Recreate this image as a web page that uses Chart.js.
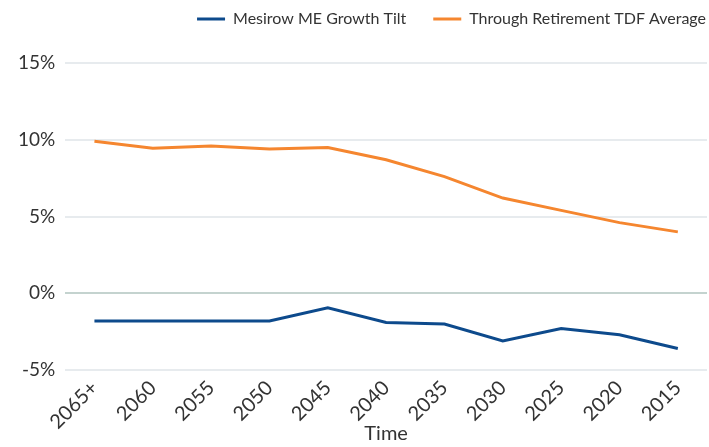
<!DOCTYPE html>
<html>
<head>
<meta charset="utf-8">
<script src="https://cdn.jsdelivr.net/npm/chart.js@4"></script>
<style>
  html, body { margin: 0; padding: 0; background: #fff; overflow: hidden; }
  #wrap { width: 709px; height: 447px; }
</style>
</head>
<body>
<div id="wrap"><canvas id="myChart"></canvas></div>
<script>
const vintages = ['2065+', '2060', '2055', '2050', '2045', '2040', '2035', '2030', '2025', '2020', '2015'];
const growthTilt = [-1.8, -1.8, -1.8, -1.8, -0.95, -1.9, -2.0, -3.1, -2.3, -2.7, -3.6];
const tdfAverage = [9.9, 9.45, 9.6, 9.4, 9.5, 8.7, 7.6, 6.2, 5.4, 4.6, 4.0];
const yTicks = [-5, 0, 5, 10, 15];

const blue = '#0d4a8c';
const orange = '#f5862f';

// nudge the legend box: flush right (no trailing item padding) and up near the top edge
const legendShift = {
    id: 'legendShift',
    afterLayout: function (chart) {
        const lg = chart.legend;
        if (!lg) return;
        lg.left += 26;
        lg.right += 26;
        lg.top -= 26;
        lg.bottom -= 26;
    }
};

const data = {
    labels: vintages,
    datasets: [{
        label: 'Mesirow ME Growth Tilt',
        data: growthTilt,
        borderColor: blue,
        backgroundColor: blue,
        borderWidth: 3,
        pointRadius: 0,
        tension: 0
    }, {
        label: 'Through Retirement TDF Average',
        data: tdfAverage,
        borderColor: orange,
        backgroundColor: orange,
        borderWidth: 3,
        pointRadius: 0,
        tension: 0
    }]
};

const config = {
    type: 'line',
    data: data,
    plugins: [legendShift],
    options: {
        responsive: true,
        maintainAspectRatio: false,
        animation: false,
        layout: { padding: { left: 8, right: 2, top: 10, bottom: 1 } },
        plugins: {
            tooltip: { enabled: false },
            legend: {
                position: 'top',
                align: 'end',
                labels: {
                    color: '#333',
                    font: { family: 'Lato', size: 16 },
                    boxWidth: 28,
                    boxHeight: 3,
                    padding: 27,
                    generateLabels: function (chart) {
                        return chart.data.datasets.map(function (ds, i) {
                            return {
                                text: ds.label,
                                fillStyle: ds.borderColor,
                                strokeStyle: ds.borderColor,
                                lineWidth: 0,
                                hidden: false,
                                datasetIndex: i,
                                fontColor: '#333'
                            };
                        });
                    }
                }
            }
        },
        scales: {
            x: {
                offset: true,
                grid: { display: false },
                border: { display: false },
                ticks: {
                    color: '#333',
                    font: { family: 'Lato', size: 20 },
                    maxRotation: 45,
                    minRotation: 45,
                    padding: -2
                },
                title: {
                    display: true,
                    text: 'Time',
                    color: '#333',
                    font: { family: 'Lato', size: 20 },
                    padding: { top: -10, bottom: 0 }
                }
            },
            y: {
                min: yTicks[0],
                max: yTicks[yTicks.length - 1],
                border: { display: false },
                grid: {
                    drawTicks: false,
                    lineWidth: 2,
                    color: function (ctx) {
                        return ctx.tick && ctx.tick.value === 0 ? '#c4d3cf' : '#e7ebee';
                    }
                },
                afterBuildTicks: function (axis) {
                    axis.ticks = yTicks.map(function (v) { return { value: v }; });
                },
                ticks: {
                    color: '#333',
                    font: { family: 'Lato', size: 19 },
                    padding: 10,
                    callback: function (v) { return v + '%'; }
                }
            }
        }
    }
};

const myChart = new Chart(document.getElementById('myChart'), config);
</script>
</body>
</html>
